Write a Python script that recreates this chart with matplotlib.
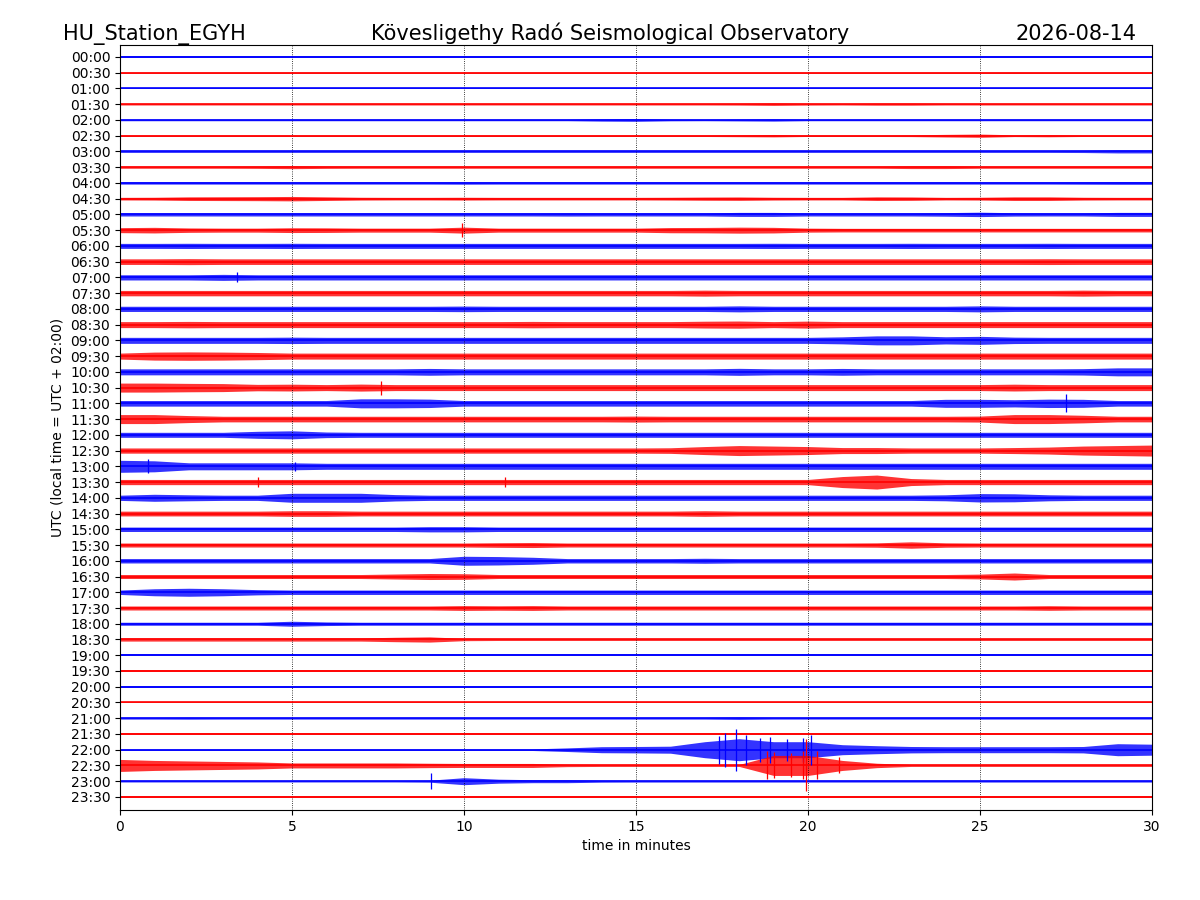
import matplotlib
matplotlib.use("Agg")
import matplotlib.pyplot as plt

# Helicorder of one day, 48 half-hour lines, 30 minutes each
station = "HU_Station_EGYH"
observatory = "Kövesligethy Radó Seismological Observatory"
day = "2026-08-14"

line_labels = ["%02d:%02d" % (h, m) for h in range(24) for m in (0, 30)]
minutes = list(range(31))

# half-amplitude of each trace (counts), read at every full minute 0..30
envelope = [
    [0.7, 0.7, 0.7, 0.7, 0.7, 0.7, 0.7, 0.7, 0.7, 0.7, 0.7, 0.7, 0.7, 0.7, 0.7, 0.7, 0.7, 0.7, 0.7, 0.7, 0.7, 0.7, 0.7, 0.7, 0.7, 0.7, 0.7, 0.7, 0.7, 0.7, 0.7],
    [0.7, 0.7, 0.7, 0.7, 0.7, 0.7, 0.7, 0.7, 0.7, 0.7, 0.7, 0.7, 0.7, 0.7, 0.7, 0.7, 0.7, 0.7, 0.7, 0.7, 0.7, 0.7, 0.7, 0.7, 0.7, 0.7, 0.8, 0.7, 0.7, 0.7, 0.7],
    [0.8, 0.8, 0.8, 0.8, 0.8, 0.8, 0.8, 0.8, 0.8, 0.8, 0.8, 0.8, 0.8, 0.8, 0.8, 0.8, 0.8, 0.8, 0.8, 0.8, 0.8, 0.8, 0.8, 0.8, 0.8, 0.8, 0.8, 0.8, 0.8, 0.8, 0.8],
    [0.8, 0.8, 0.8, 0.8, 0.8, 0.8, 0.8, 0.8, 0.8, 0.8, 0.8, 0.8, 0.8, 0.8, 0.8, 0.8, 0.8, 0.8, 0.9, 1.2, 0.9, 0.8, 1.0, 1.0, 0.8, 0.8, 0.8, 0.8, 0.8, 0.8, 0.8],
    [0.8, 0.8, 0.8, 0.8, 0.8, 0.8, 0.8, 0.8, 0.8, 0.8, 0.8, 0.8, 0.8, 0.8, 1.2, 1.4, 0.9, 0.8, 1.0, 1.2, 0.8, 0.8, 0.8, 0.8, 0.8, 0.8, 0.8, 0.8, 0.8, 0.8, 0.8],
    [0.8, 0.8, 0.8, 0.8, 0.8, 0.8, 0.8, 0.8, 0.8, 0.8, 0.8, 0.8, 0.8, 0.8, 0.8, 0.8, 0.8, 0.8, 1.0, 1.2, 0.8, 0.8, 0.8, 0.9, 1.3, 1.6, 0.9, 1.1, 0.8, 0.8, 0.8],
    [1.0, 1.0, 1.0, 1.0, 1.0, 1.0, 1.0, 1.0, 1.0, 1.0, 1.0, 1.0, 1.0, 1.0, 1.0, 1.0, 1.0, 1.0, 1.0, 1.0, 1.0, 1.0, 1.0, 1.0, 1.0, 1.0, 1.0, 1.0, 1.1, 1.5, 1.5],
    [1.1, 1.1, 1.1, 1.1, 1.2, 1.5, 1.2, 1.1, 1.1, 1.1, 1.1, 1.1, 1.1, 1.1, 1.1, 1.1, 1.1, 1.1, 1.1, 1.1, 1.1, 1.1, 1.1, 1.4, 1.4, 1.1, 1.1, 1.1, 1.1, 1.1, 1.1],
    [1.2, 1.2, 1.2, 1.2, 1.2, 1.2, 1.2, 1.2, 1.2, 1.2, 1.3, 1.2, 1.2, 1.2, 1.2, 1.2, 1.2, 1.2, 1.2, 1.2, 1.2, 1.2, 1.2, 1.2, 1.2, 1.2, 1.2, 1.2, 1.3, 1.4, 1.4],
    [1.3, 1.4, 1.8, 1.9, 2.0, 2.2, 1.8, 1.4, 1.3, 1.3, 1.4, 1.3, 1.3, 1.3, 1.3, 1.3, 1.4, 1.6, 1.7, 1.4, 1.3, 1.3, 1.8, 1.7, 1.3, 1.4, 1.8, 1.8, 1.4, 1.3, 1.3],
    [1.6, 1.6, 1.6, 1.6, 1.6, 1.6, 1.6, 1.6, 1.6, 1.6, 1.6, 1.6, 1.6, 1.7, 1.6, 1.6, 1.6, 1.6, 2.0, 2.0, 1.6, 1.6, 1.6, 1.6, 1.8, 2.2, 1.7, 1.6, 1.6, 2.0, 2.0],
    [2.5, 2.8, 2.2, 2.0, 2.0, 2.4, 2.3, 2.0, 2.0, 2.0, 3.0, 2.0, 2.0, 2.0, 2.0, 2.0, 2.6, 2.7, 3.0, 2.8, 2.0, 1.8, 1.8, 1.8, 1.8, 1.8, 1.8, 1.8, 1.8, 1.8, 1.8],
    [2.5, 2.5, 2.6, 2.5, 2.5, 2.6, 2.5, 2.5, 2.5, 2.5, 2.5, 2.5, 2.5, 2.5, 2.5, 2.5, 2.5, 2.5, 2.5, 2.6, 2.5, 2.5, 2.5, 2.6, 2.5, 2.5, 2.5, 2.6, 2.5, 2.5, 2.5],
    [2.8, 2.8, 3.0, 2.8, 2.8, 2.8, 2.8, 2.8, 2.8, 2.8, 2.8, 2.8, 2.8, 2.8, 2.8, 2.8, 2.8, 2.8, 2.8, 2.8, 2.8, 2.8, 2.8, 2.8, 2.8, 2.8, 2.8, 2.9, 2.8, 2.8, 2.8],
    [2.6, 2.6, 2.6, 3.0, 2.6, 2.6, 2.6, 2.6, 2.6, 2.6, 2.6, 2.6, 2.6, 2.6, 2.6, 2.6, 2.6, 2.6, 2.6, 2.6, 2.6, 2.6, 2.6, 2.6, 2.6, 2.6, 2.6, 2.6, 2.6, 2.6, 2.6],
    [2.7, 2.7, 2.7, 2.7, 2.7, 2.7, 2.7, 2.7, 2.7, 2.7, 2.7, 2.7, 2.7, 2.7, 2.7, 2.7, 2.7, 3.0, 2.7, 2.7, 2.7, 2.7, 2.7, 2.7, 2.7, 2.7, 2.7, 2.7, 3.0, 2.7, 2.7],
    [2.6, 2.6, 2.6, 2.6, 2.6, 2.6, 2.6, 2.6, 2.6, 2.6, 2.8, 2.6, 2.6, 2.6, 2.6, 2.6, 2.6, 2.6, 3.0, 2.6, 2.6, 2.6, 2.6, 2.6, 2.6, 3.0, 2.6, 2.6, 2.6, 2.6, 2.6],
    [3.0, 3.0, 3.2, 3.0, 3.0, 3.0, 3.0, 3.0, 3.0, 3.0, 3.0, 3.0, 3.2, 3.0, 3.0, 3.0, 3.0, 3.4, 3.6, 3.0, 3.5, 3.0, 3.0, 3.0, 3.0, 3.0, 3.0, 3.0, 3.0, 3.0, 3.0],
    [3.0, 3.0, 3.0, 3.0, 3.0, 3.2, 3.0, 3.0, 3.0, 3.0, 3.0, 3.0, 3.0, 3.0, 3.0, 3.0, 3.0, 3.0, 3.0, 3.0, 3.0, 3.5, 4.5, 4.5, 3.6, 4.0, 3.2, 3.0, 3.0, 3.0, 3.0],
    [3.0, 4.0, 4.2, 4.0, 3.6, 3.0, 3.0, 3.0, 3.0, 3.0, 3.0, 3.0, 3.0, 3.0, 3.0, 3.0, 3.0, 3.0, 3.0, 3.0, 3.0, 3.0, 3.0, 3.0, 3.0, 3.0, 3.0, 3.0, 3.0, 3.0, 3.0],
    [3.0, 3.0, 3.0, 3.0, 3.0, 3.0, 3.0, 3.0, 3.0, 3.4, 3.0, 3.0, 3.0, 3.0, 3.0, 3.0, 3.0, 3.0, 3.5, 3.0, 3.0, 3.4, 3.0, 3.0, 3.0, 3.0, 3.0, 3.0, 3.2, 4.0, 4.0],
    [4.5, 4.5, 4.2, 4.0, 3.2, 3.4, 3.0, 3.5, 3.0, 3.0, 3.0, 3.0, 3.0, 3.0, 3.0, 3.0, 3.0, 3.0, 3.0, 3.0, 3.0, 3.0, 3.0, 3.0, 3.0, 3.0, 3.4, 3.0, 3.0, 3.0, 3.0],
    [2.8, 2.8, 2.8, 2.8, 2.8, 2.8, 2.8, 4.5, 4.5, 4.2, 2.8, 2.8, 2.8, 2.8, 2.8, 2.8, 2.8, 2.8, 2.8, 2.8, 2.8, 2.8, 2.8, 2.8, 4.0, 4.0, 3.6, 4.2, 4.0, 2.8, 2.8],
    [4.5, 4.5, 3.5, 2.8, 2.8, 2.8, 2.8, 2.8, 2.8, 2.8, 2.8, 2.8, 2.8, 2.8, 2.8, 3.0, 2.8, 2.8, 2.8, 2.8, 2.8, 2.8, 2.8, 2.8, 2.8, 3.0, 4.5, 4.5, 3.8, 2.8, 2.8],
    [2.5, 2.5, 2.5, 2.5, 3.5, 4.0, 2.8, 2.5, 2.5, 2.5, 2.5, 2.5, 2.5, 2.5, 2.5, 2.5, 2.5, 2.5, 2.5, 2.5, 2.5, 2.5, 2.5, 2.5, 2.5, 2.5, 2.5, 2.5, 2.5, 2.5, 2.5],
    [2.6, 2.6, 2.6, 2.6, 2.6, 2.6, 2.6, 2.6, 2.6, 2.6, 2.6, 2.6, 2.6, 2.6, 2.6, 2.6, 2.8, 4.0, 5.0, 4.5, 4.0, 3.0, 3.0, 2.6, 2.6, 2.6, 3.0, 3.5, 4.5, 5.0, 5.5],
    [6.0, 5.5, 3.5, 3.5, 3.5, 3.5, 3.0, 3.0, 3.0, 3.0, 3.0, 3.0, 3.0, 3.0, 3.0, 3.0, 3.0, 3.0, 3.0, 3.0, 3.0, 3.0, 3.0, 3.0, 3.0, 3.0, 3.0, 3.0, 3.0, 3.0, 3.0],
    [2.6, 2.6, 2.6, 2.6, 2.6, 2.6, 2.6, 2.6, 2.6, 2.6, 2.6, 2.6, 2.6, 2.6, 2.6, 2.6, 2.6, 2.6, 2.6, 2.6, 2.6, 5.5, 7.0, 3.5, 2.6, 2.6, 2.6, 2.6, 2.6, 2.6, 2.6],
    [2.6, 3.5, 3.0, 2.6, 2.6, 4.5, 4.5, 4.5, 3.2, 2.6, 2.6, 2.6, 2.6, 2.6, 2.6, 2.6, 2.6, 2.6, 2.6, 2.6, 2.6, 2.6, 2.6, 2.6, 3.0, 4.2, 4.0, 3.0, 2.6, 2.6, 2.6],
    [2.4, 2.4, 2.4, 2.4, 2.4, 2.8, 2.8, 2.4, 2.4, 2.4, 2.4, 2.4, 2.4, 2.4, 2.4, 2.4, 2.4, 2.8, 2.4, 2.4, 2.4, 2.4, 2.4, 2.4, 2.4, 2.4, 2.4, 2.4, 2.4, 2.4, 2.4],
    [2.2, 2.2, 2.2, 2.2, 2.2, 2.2, 2.2, 2.2, 2.2, 2.6, 2.6, 2.2, 2.2, 2.2, 2.2, 2.2, 2.2, 2.2, 2.2, 2.2, 2.2, 2.2, 2.2, 2.2, 2.2, 2.2, 2.2, 2.2, 2.2, 2.2, 2.2],
    [2.0, 2.0, 2.0, 2.0, 2.0, 2.0, 2.0, 2.0, 2.0, 2.0, 2.0, 2.3, 2.5, 2.0, 2.0, 2.0, 2.0, 2.0, 2.0, 2.0, 2.0, 2.0, 2.2, 3.2, 2.2, 2.0, 2.0, 2.0, 2.0, 2.0, 2.0],
    [2.2, 2.2, 2.2, 2.2, 2.2, 2.2, 2.2, 2.2, 2.2, 2.2, 4.5, 4.2, 3.5, 2.2, 2.2, 2.2, 2.2, 2.5, 2.2, 2.2, 2.2, 2.2, 2.2, 2.2, 2.2, 2.2, 2.2, 2.2, 2.2, 2.2, 2.2],
    [2.0, 2.0, 2.0, 2.0, 2.0, 2.0, 2.0, 2.0, 2.5, 3.0, 2.8, 2.0, 2.0, 2.0, 2.0, 2.0, 2.0, 2.0, 2.0, 2.0, 2.0, 2.0, 2.0, 2.0, 2.0, 2.4, 3.5, 2.0, 2.0, 2.0, 2.0],
    [2.2, 3.5, 4.0, 3.5, 2.6, 2.2, 2.2, 2.2, 2.2, 2.2, 2.2, 2.2, 2.2, 2.2, 2.2, 2.2, 2.2, 2.2, 2.2, 2.2, 2.2, 2.2, 2.2, 2.2, 2.2, 2.2, 2.2, 2.2, 2.2, 2.2, 2.2],
    [2.0, 2.0, 2.0, 2.0, 2.0, 2.0, 2.0, 2.0, 2.0, 2.0, 2.4, 2.2, 2.4, 2.0, 2.0, 2.0, 2.0, 2.0, 2.0, 2.0, 2.0, 2.0, 2.0, 2.0, 2.0, 2.0, 2.0, 2.3, 2.0, 2.0, 2.0],
    [1.5, 1.5, 1.5, 1.5, 1.5, 2.5, 1.8, 1.5, 1.5, 1.5, 1.5, 1.5, 1.5, 1.5, 1.5, 1.5, 1.5, 1.5, 1.5, 1.5, 1.5, 1.5, 1.5, 1.5, 1.5, 1.5, 1.5, 1.5, 1.5, 1.5, 1.5],
    [1.6, 1.6, 1.6, 1.6, 1.6, 1.6, 1.6, 1.6, 2.2, 2.6, 1.2, 1.0, 1.0, 1.0, 1.0, 1.0, 1.0, 1.0, 1.0, 1.0, 1.0, 1.0, 1.0, 1.0, 1.0, 1.0, 1.0, 1.0, 1.0, 1.0, 1.0],
    [0.9, 0.9, 0.9, 0.9, 0.9, 0.9, 0.9, 0.9, 0.9, 0.9, 0.9, 0.9, 0.9, 0.9, 0.9, 0.9, 0.9, 0.9, 0.9, 0.9, 0.9, 0.9, 0.9, 0.9, 0.9, 0.9, 0.9, 0.9, 0.9, 0.9, 0.9],
    [0.8, 0.8, 0.8, 0.8, 0.8, 0.8, 0.8, 0.8, 0.8, 0.8, 0.8, 0.8, 0.8, 0.8, 0.8, 0.8, 0.8, 0.8, 0.8, 0.8, 0.8, 0.8, 0.8, 0.8, 0.8, 0.8, 0.8, 0.8, 0.8, 0.8, 0.8],
    [0.8, 0.8, 0.8, 0.8, 0.8, 0.8, 0.8, 0.8, 0.8, 0.8, 0.8, 0.8, 0.8, 0.8, 0.8, 0.8, 0.8, 0.8, 0.8, 0.8, 0.8, 0.8, 0.8, 0.8, 0.8, 0.8, 0.8, 0.8, 0.8, 0.8, 0.8],
    [0.9, 0.9, 0.9, 0.9, 0.9, 0.9, 0.9, 0.9, 0.9, 0.9, 0.9, 0.9, 0.9, 0.9, 0.9, 0.9, 0.9, 0.9, 0.9, 0.9, 0.9, 0.9, 0.9, 0.9, 0.9, 0.9, 0.9, 0.9, 0.9, 0.9, 0.9],
    [0.9, 0.9, 1.0, 0.9, 0.9, 0.9, 0.9, 0.9, 0.9, 0.9, 0.9, 0.9, 0.9, 0.9, 0.9, 0.9, 0.9, 0.9, 1.2, 0.9, 0.9, 0.9, 0.9, 0.9, 0.9, 0.9, 0.9, 0.9, 0.9, 0.9, 0.9],
    [0.7, 0.7, 0.7, 0.7, 0.7, 0.7, 0.7, 0.7, 0.7, 0.7, 0.7, 0.7, 0.7, 0.7, 0.7, 0.7, 0.7, 0.7, 0.7, 0.7, 0.7, 0.7, 0.7, 0.7, 0.7, 0.7, 0.7, 0.7, 0.7, 0.7, 0.7],
    [0.8, 0.8, 0.8, 0.8, 0.8, 0.8, 0.8, 0.8, 0.8, 0.8, 0.8, 0.8, 0.8, 1.8, 3.0, 3.2, 3.5, 8.0, 11.0, 8.0, 8.0, 5.0, 4.0, 3.2, 3.0, 3.0, 3.0, 3.0, 3.2, 6.0, 5.5],
    [6.0, 5.0, 4.5, 4.0, 3.5, 2.5, 2.5, 2.5, 2.5, 2.2, 2.0, 2.0, 2.0, 1.2, 1.0, 1.0, 1.0, 1.0, 1.0, 10.0, 10.0, 5.0, 2.2, 1.0, 1.0, 1.0, 1.0, 1.0, 1.0, 1.0, 1.0],
    [0.8, 0.8, 0.8, 0.8, 0.8, 0.8, 0.8, 0.8, 0.8, 1.0, 3.5, 2.0, 1.5, 1.5, 1.0, 0.9, 0.9, 0.9, 0.9, 0.9, 0.9, 0.9, 0.9, 0.9, 0.9, 0.9, 0.9, 0.9, 0.9, 0.9, 0.9],
    [0.7, 0.7, 0.7, 0.7, 0.7, 0.7, 0.7, 0.7, 0.7, 0.7, 0.7, 0.7, 0.7, 0.7, 0.7, 0.7, 0.7, 0.7, 0.7, 0.7, 0.7, 0.7, 0.7, 0.7, 0.7, 0.7, 0.7, 0.7, 0.7, 0.7, 0.7],
]

# single peaks between the minute marks: line index, minute, half-amplitude
spike_line = [11, 14, 21, 22, 26, 26, 27, 27,
              44, 44, 44, 44, 44, 44, 44, 44, 44,
              45, 45, 45, 45, 45, 45, 45, 46]
spike_minute = [9.93, 3.4, 7.6, 27.5, 0.8, 5.1, 4.0, 11.2,
                17.4, 17.6, 17.9, 18.2, 18.6, 18.9, 19.4, 19.85, 20.1,
                18.8, 19.0, 19.5, 19.85, 19.95, 20.25, 20.9, 9.05]
spike_amp = [7.0, 5.0, 7.0, 9.0, 7.0, 4.5, 5.0, 5.0,
             14.0, 17.0, 21.0, 15.0, 12.0, 13.0, 11.0, 12.0, 15.0,
             14.0, 13.0, 12.0, 14.0, 26.0, 14.0, 8.0, 8.0]

line_colors = ["blue", "red"]
gain = 1 / 15.74  # counts -> line spacing


def main():
    fig = plt.figure(figsize=(12, 9), dpi=100)
    ax = fig.add_axes([0.1, 0.1, 0.86, 0.85])

    for i, env in enumerate(envelope):
        c = line_colors[i % 2]
        lo = [i - a * gain for a in env]
        hi = [i + a * gain for a in env]
        ax.fill_between(minutes, lo, hi, color=c, alpha=0.8, lw=0)
        ax.plot(minutes, [i] * len(minutes), color=c, lw=1.2)

    for ln, m, a in zip(spike_line, spike_minute, spike_amp):
        ax.vlines(m, ln - a * gain, ln + a * gain, color=line_colors[ln % 2], lw=0.9)

    ax.set_xlim(0, 30)
    ax.set_ylim(47.83, -0.76)
    ax.set_xticks([0, 5, 10, 15, 20, 25, 30])
    ax.set_yticks(range(len(line_labels)))
    ax.set_yticklabels(line_labels)
    ax.grid(axis='x', color='black', linestyle=':', linewidth=0.6)
    ax.set_xlabel("time in minutes")
    ax.set_ylabel("UTC (local time = UTC + 02:00)")

    fig.text(0.0525, 0.9556, station, fontsize=15, ha='left', va='baseline')
    fig.text(0.5088, 0.9556, observatory, fontsize=15, ha='center', va='baseline')
    fig.text(0.9467, 0.9556, day, fontsize=15, ha='right', va='baseline')

    fig.savefig("out.png", dpi=100)


if __name__ == "__main__":
    main()
